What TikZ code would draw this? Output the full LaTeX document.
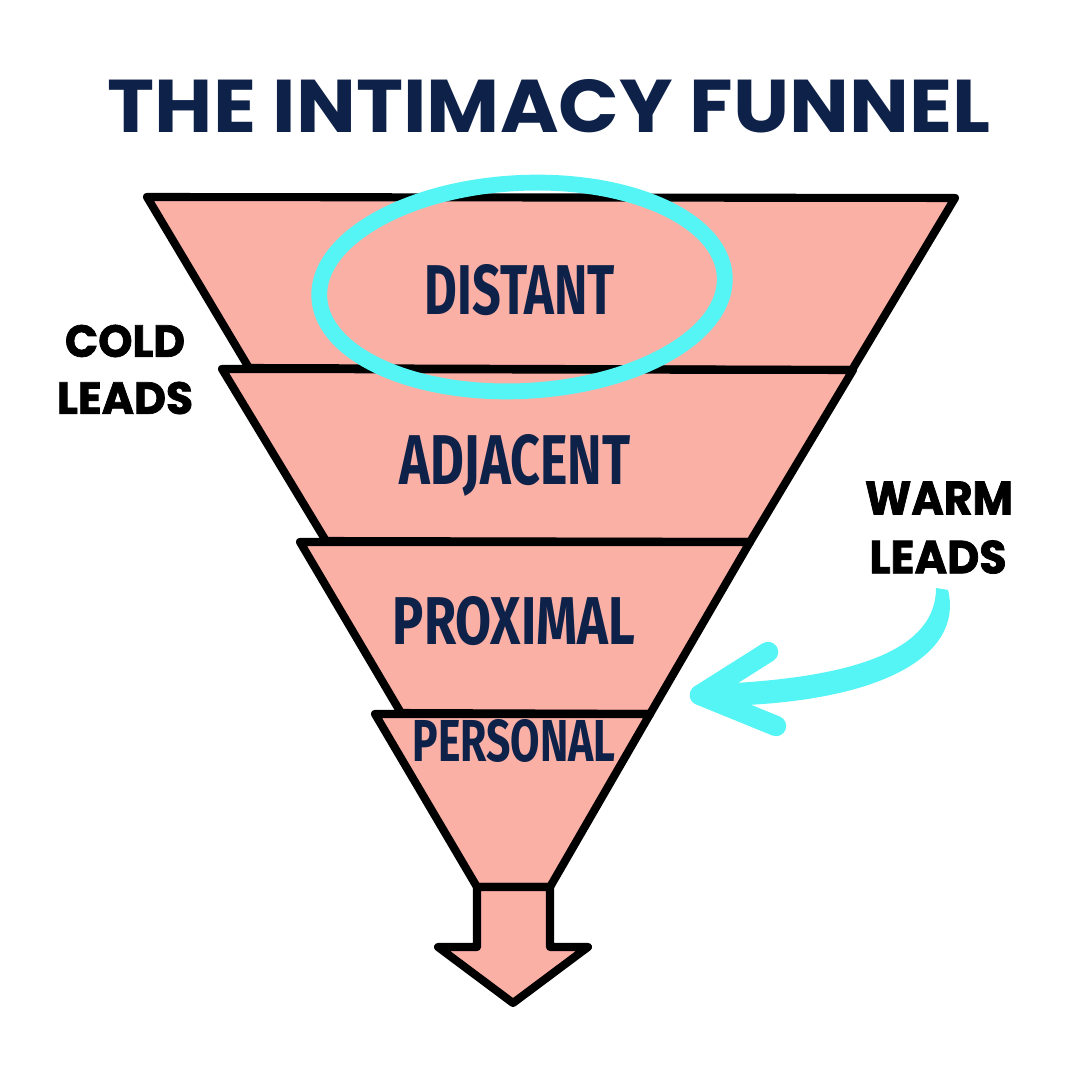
\documentclass[tikz,border=0pt]{standalone}
\usepackage{fontspec}
\usepackage{graphicx}
\setmainfont{Poppins}
\newfontfamily\heavyfont[BoldFeatures={FakeBold=1.6}]{Poppins}
\newfontfamily\condfont[FakeStretch=0.8]{Fira Sans}
\definecolor{navy}{HTML}{0E2148}
\definecolor{pinkfill}{HTML}{FBB0A6}
\definecolor{cyanink}{HTML}{55F5F6}
\newcommand{\fitbox}[3]{\resizebox{#1}{#2}{#3}}
\tikzset{
  funnelpart/.style={draw=black, fill=pinkfill, line width=2.3pt, line join=round},
  tierlabel/.style={inner sep=0pt, text=navy, font=\condfont\bfseries},
  leadlabel/.style={inner sep=0pt, text=black, font=\heavyfont\bfseries},
  titlelabel/.style={inner sep=0pt, text=navy, font=\bfseries},
  cyanstroke/.style={draw=cyanink, line width=4.5pt, line cap=round, line join=round}
}
\begin{document}
\begin{tikzpicture}[x=0.01cm,y=-0.01cm]
\useasboundingbox[fill=white] (0,0) rectangle (1080,1080);
% title
\node[titlelabel] (title) at (549,106) {\fitbox{8.82cm}{0.53cm}{THE INTIMACY FUNNEL}};
% funnel parts
\draw[funnelpart] (147,197) -- (955,198) -- (852,370) -- (249,368) -- cycle;
\draw[funnelpart] (222,369) -- (853,370) -- (750,542) -- (326,541) -- cycle;
\draw[funnelpart] (300,542) -- (750,542) -- (650,714) -- (401,713) -- cycle;
\draw[funnelpart] (375,714) -- (650,714) -- (550,887) -- (477,887) -- cycle;
\draw[funnelpart] (477,887) -- (477,947) -- (438,947) -- (513,1003) -- (588,947) -- (550,947) -- (550,887) -- cycle;
% tier labels
\node[tierlabel] (distant) at (520,290) {\fitbox{1.90cm}{0.50cm}{DISTANT}};
\node[tierlabel] (adjacent) at (515,465) {\fitbox{2.30cm}{0.50cm}{ADJACENT}};
\node[tierlabel] (proximal) at (514,621) {\fitbox{2.42cm}{0.48cm}{PROXIMAL}};
\node[tierlabel] (personal) at (514,741) {\fitbox{2.03cm}{0.42cm}{PERSONAL}};
% cyan ellipse around DISTANT
\draw[cyanstroke] (522,287) ellipse [x radius=203, y radius=104, rotate=3];
% side labels
\node[leadlabel] (cold) at (125,341) {\fitbox{1.20cm}{0.32cm}{COLD}};
\node[leadlabel] (coldleads) at (125,398) {\fitbox{1.36cm}{0.32cm}{LEADS}};
\node[leadlabel] (warm) at (939,498) {\fitbox{1.48cm}{0.33cm}{WARM}};
\node[leadlabel] (warmleads) at (938,557) {\fitbox{1.37cm}{0.33cm}{LEADS}};
% warm leads arrow
\coordinate (tip) at (700,695);
\fill[cyanink] (936,588) .. controls (936,648) and (860,678) .. (715,684)
  -- (715,706) .. controls (882,704) and (964,655) .. (948,590) -- cycle;
\draw[cyanstroke, line width=5.8pt] (tip) -- (768,652);
\draw[cyanstroke, line width=5.8pt] (tip) -- (776,726);
\end{tikzpicture}
\end{document}
